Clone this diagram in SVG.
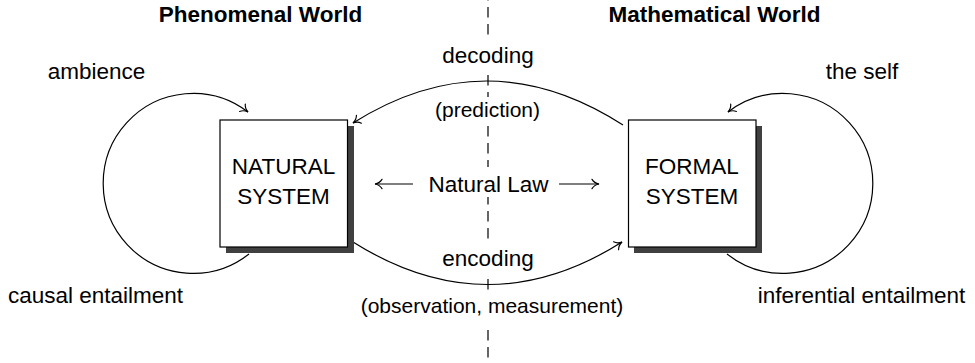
<svg xmlns="http://www.w3.org/2000/svg" width="975" height="363" viewBox="0 0 975 363">
<style>
text{font-family:"Liberation Sans",Arial,sans-serif;fill:#000;text-anchor:middle}
.t{font-size:22.5px}
.s{font-size:21px}
.h{font-size:22.5px;font-weight:bold}
.box{fill:#fff;stroke:#000;stroke-width:1.2}
.shadow{fill:#404040}
.arc{fill:none;stroke:#000;stroke-width:1.2}
.bg{fill:#fff}
</style>
<defs>
<marker id="arr" markerUnits="userSpaceOnUse" markerWidth="14" markerHeight="14" viewBox="-8 -6 10 12" refX="0" refY="0" orient="auto">
<path d="M-6,-4 C-4.5,-1.5 -2,-0.4 0,0 C-2,0.4 -4.5,1.5 -6,4" fill="none" stroke="#000" stroke-width="1" stroke-linecap="round"/>
</marker>
</defs>
<rect width="975" height="363" fill="#fff"/>
<line x1="488" y1="0" x2="488" y2="363" stroke="#000" stroke-width="1.2" stroke-dasharray="10.5 6.5" stroke-dashoffset="10"/>
<text class="h" x="260.5" y="22">Phenomenal World</text>
<text class="h" x="714.5" y="22">Mathematical World</text>
<g id="connectors">
<path class="arc" d="M249,254 A90,90 0 1 1 248,112" marker-end="url(#arr)"/>
<path class="arc" d="M727,254 A90,90 0 1 0 728,112" marker-end="url(#arr)"/>
<path class="arc" d="M623,125 Q488,38 353,123" marker-end="url(#arr)"/>
<path class="arc" d="M353,242 Q488,327 622,242" marker-end="url(#arr)"/>
<line class="arc" x1="413" y1="184" x2="375" y2="184" stroke-width="0.9" marker-end="url(#arr)"/>
<line class="arc" x1="559" y1="184" x2="599" y2="184" stroke-width="0.9" marker-end="url(#arr)"/>
</g>
<g id="labels">
<rect class="bg" x="441" y="40" width="94" height="33"/>
<text class="t" x="488" y="63">decoding</text>
<rect class="bg" x="431" y="97" width="114" height="29"/>
<text class="s" x="487.5" y="117">(prediction)</text>
<rect class="bg" x="420" y="167" width="136" height="30"/>
<text class="t" x="488.5" y="192">Natural Law</text>
<rect class="bg" x="441" y="244" width="94" height="32"/>
<text class="t" x="488" y="266">encoding</text>
<rect class="bg" x="360" y="294" width="264" height="32"/>
<text class="s" x="492" y="313">(observation, measurement)</text>
<text class="t" x="96.5" y="79">ambience</text>
<text class="t" x="862" y="79">the self</text>
<text class="t" x="95.5" y="303">causal entailment</text>
<text class="t" x="861.5" y="303">inferential entailment</text>
</g>
<g id="natural-system">
<rect class="shadow" x="226" y="126" width="128" height="127"/>
<rect class="box" x="220" y="120" width="127.5" height="127"/>
<text class="t" x="283.5" y="174">NATURAL</text>
<text class="t" x="283.5" y="204">SYSTEM</text>
</g>
<g id="formal-system">
<rect class="shadow" x="634" y="126" width="128" height="127"/>
<rect class="box" x="628.5" y="120" width="127.5" height="127"/>
<text class="t" x="692" y="174">FORMAL</text>
<text class="t" x="692" y="204">SYSTEM</text>
</g>
</svg>
